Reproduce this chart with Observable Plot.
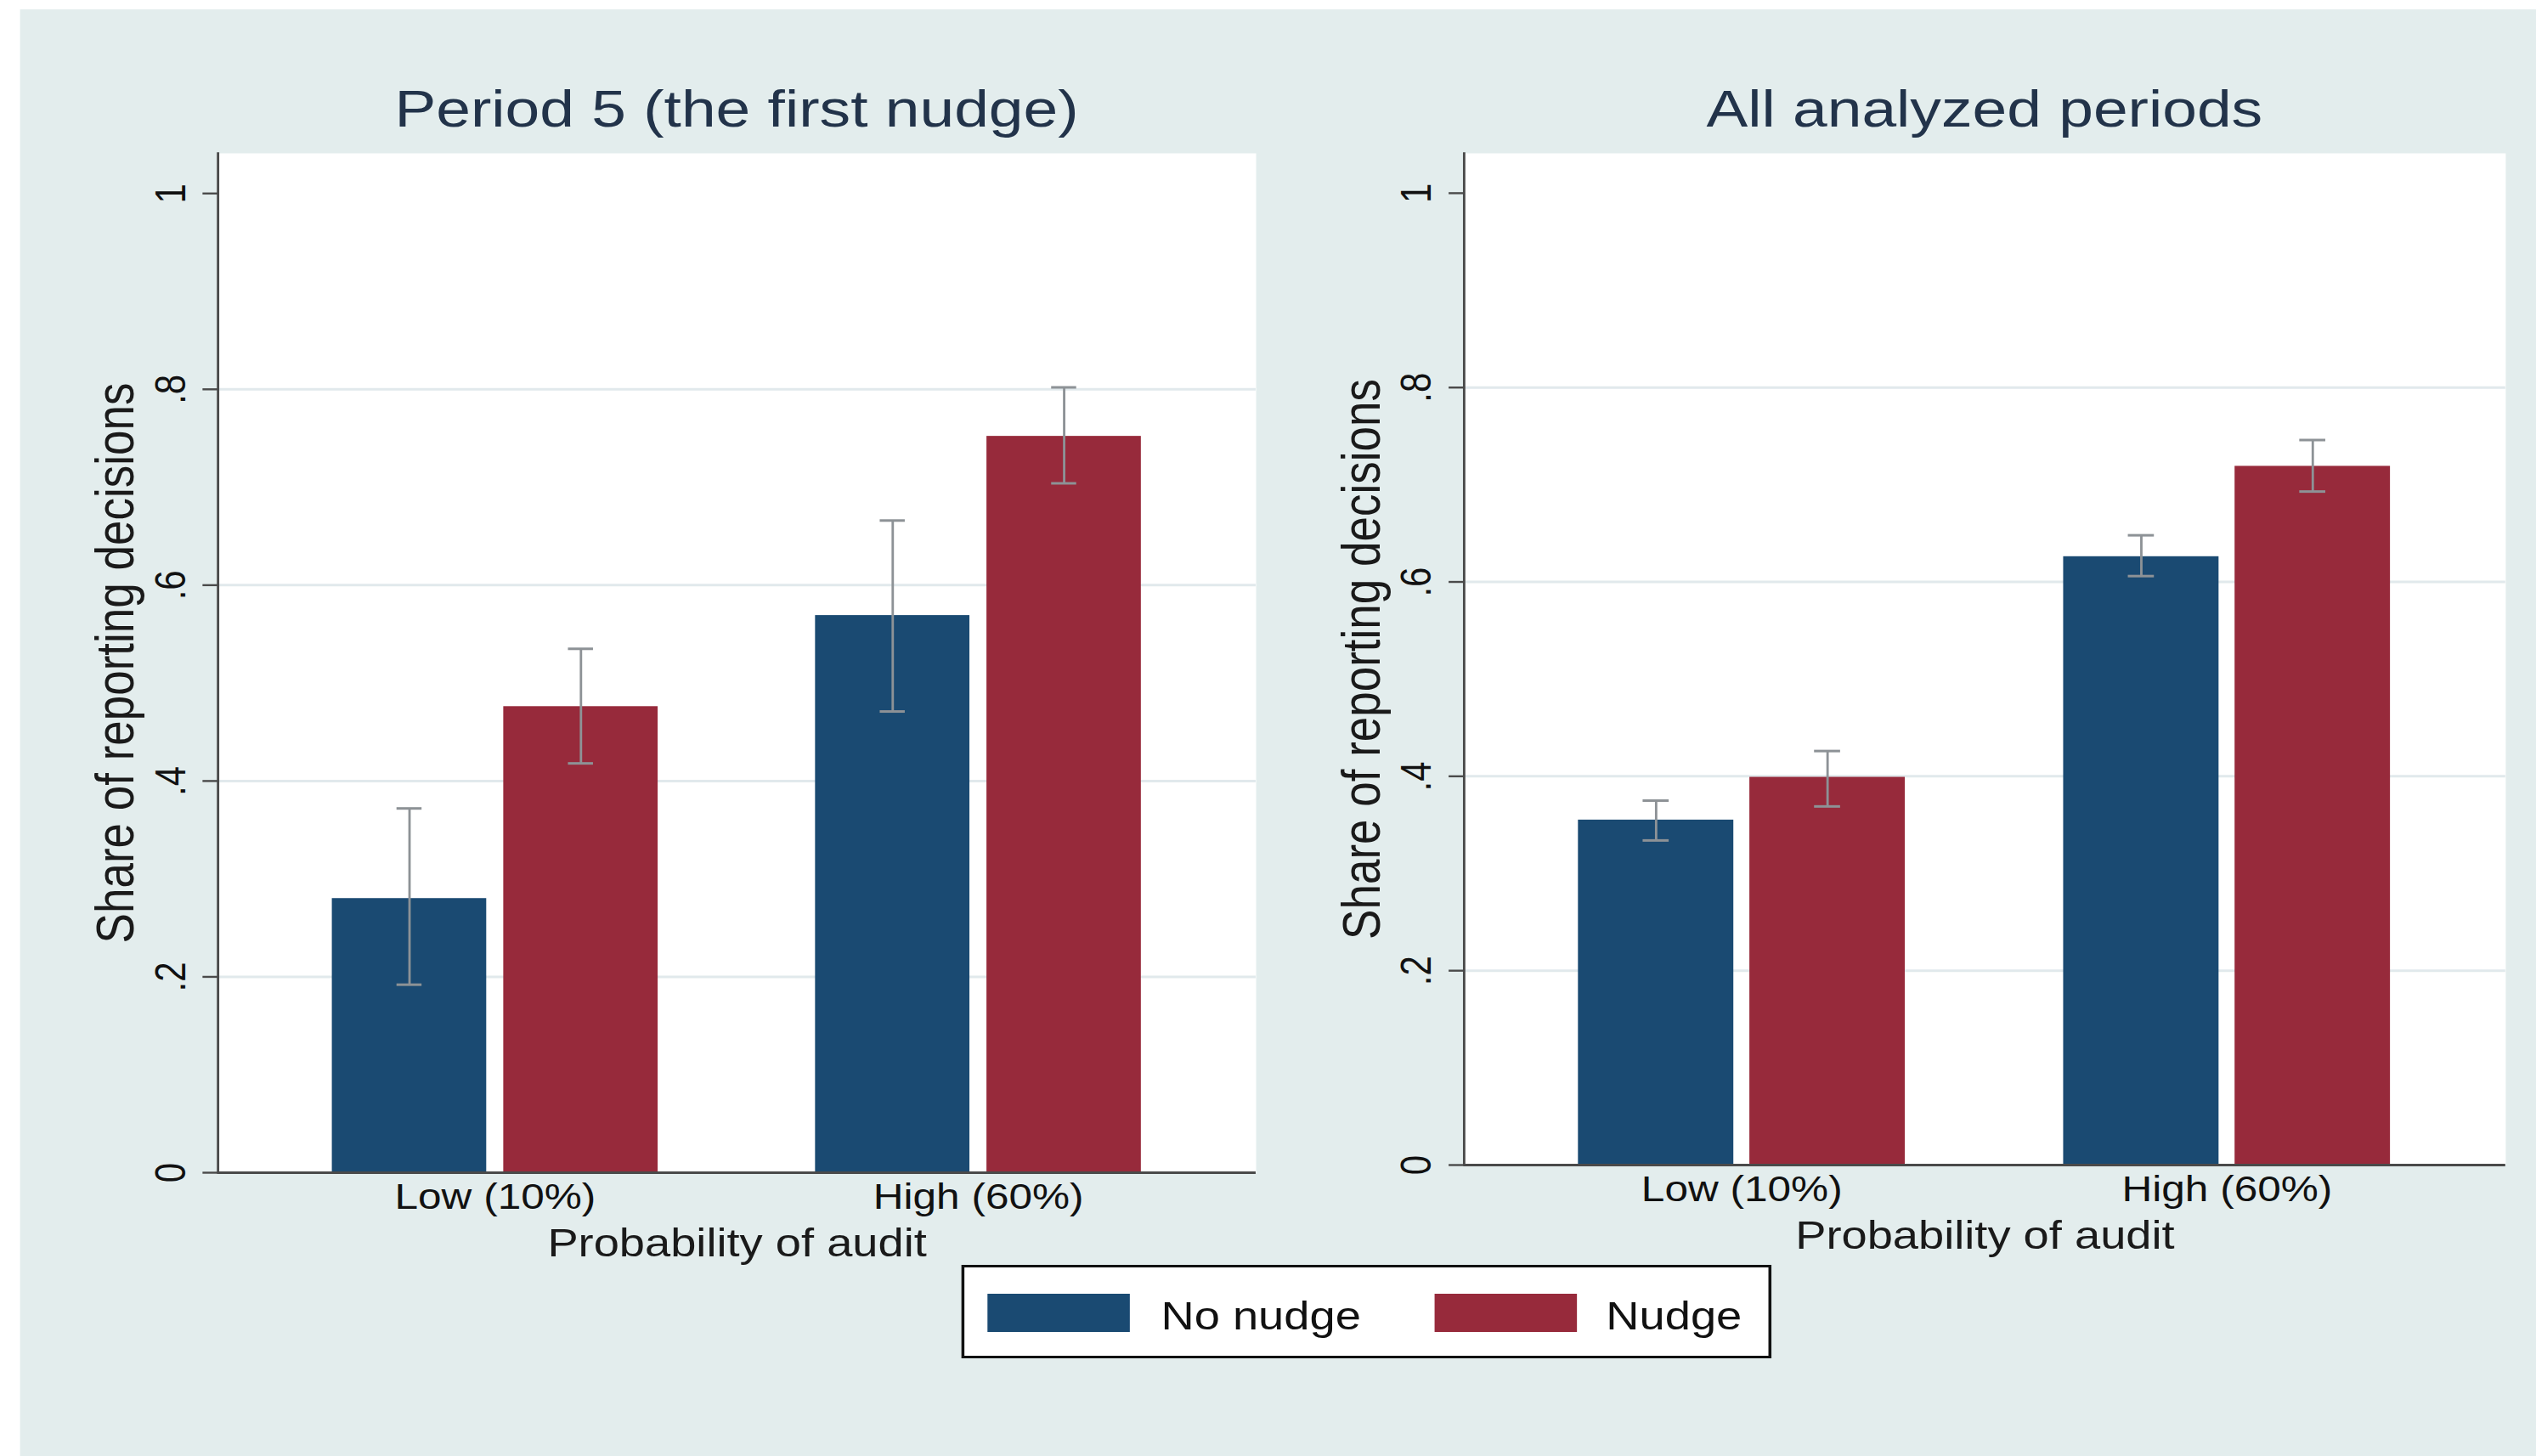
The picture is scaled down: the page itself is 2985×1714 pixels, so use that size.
<!DOCTYPE html>
<html>
<head>
<meta charset="utf-8">
<script src="https://cdn.jsdelivr.net/npm/d3@7"></script>
<script src="https://cdn.jsdelivr.net/npm/@observablehq/plot@0.6"></script>
<style>
  html, body { margin: 0; padding: 0; background: #ffffff; overflow: hidden; }
  #wrap { position: absolute; left: 0; top: 0; width: 2530px; height: 1714px;
          transform: scaleX(1.18); transform-origin: 0 0;
          font-family: "Liberation Sans", Arial, sans-serif; }
  #bg { position: absolute; left: 20px; top: 11px; right: 0; bottom: 0; background: #e3eded; }
  .panel { position: absolute; top: 0; }
  .title { position: absolute; top: 97px; text-align: center; font-size: 62px; line-height: 62px;
           color: #22334a; white-space: nowrap; }
  .legbox { position: absolute; box-sizing: border-box; background: #fff; border: 3px solid #111; }
  .sw { position: absolute; }
  .lt { position: absolute; font-size: 46px; line-height: 46px; color: #111; white-space: nowrap; }
</style>
</head>
<body>
<div id="wrap"><div id="bg"></div></div>
<script>
// ---------------- data ----------------
const groups = ["Low (10%)", "High (60%)"];
const series = ["No nudge", "Nudge"];
const seriesColors = ["#1a4a72", "#972a3b"];
const panelTitles = ["Period 5 (the first nudge)", "All analyzed periods"];
const xTitle = "Probability of audit";
const yTitle = "Share of reporting decisions";
const yTicks = [0, 0.2, 0.4, 0.6, 0.8, 1];
const yTickLabels = ["0", ".2", ".4", ".6", ".8", "1"];
const gridTicks = [0.2, 0.4, 0.6, 0.8];

// Period 5 (the first nudge): values by group [Low, High]
const p5NoNudge   = [0.280, 0.569];
const p5NoNudgeLo = [0.192, 0.471];
const p5NoNudgeHi = [0.372, 0.666];
const p5Nudge     = [0.476, 0.752];
const p5NudgeLo   = [0.418, 0.704];
const p5NudgeHi   = [0.535, 0.802];

// All analyzed periods
const allNoNudge   = [0.355, 0.626];
const allNoNudgeLo = [0.334, 0.606];
const allNoNudgeHi = [0.375, 0.648];
const allNudge     = [0.399, 0.719];
const allNudgeLo   = [0.369, 0.693];
const allNudgeHi   = [0.426, 0.746];

// ---------------- build ----------------
function rowsFor(means, los, his) {
  return groups.flatMap((g, i) => series.map((s, j) => ({
    group: g, series: s, value: means[j][i], lo: los[j][i], hi: his[j][i]
  })));
}
const panels = [
  { title: panelTitles[0], rows: rowsFor([p5NoNudge, p5Nudge], [p5NoNudgeLo, p5NudgeLo], [p5NoNudgeHi, p5NudgeHi]),
    left: 0, width: 1290, marginLeft: 217, marginRight: 37.5, marginBottom: 120 },
  { title: panelTitles[1], rows: rowsFor([allNoNudge, allNudge], [allNoNudgeLo, allNudgeLo], [allNoNudgeHi, allNudgeHi]),
    left: 1290, width: 1240, marginLeft: 170, marginRight: 31, marginBottom: 129 }
];

const wrap = document.getElementById("wrap");
const axisColor = "#4a4a4a";
const errColor = "#8d9296";
const off = 85.5;

for (const p of panels) {
  const r0 = p.rows.filter(d => d.series === series[0]);
  const r1 = p.rows.filter(d => d.series === series[1]);
  const errMarks = [];
  for (const [rows, dx] of [[r0, -off], [r1, off]]) {
    errMarks.push(
      Plot.ruleX(rows, {x: "group", y1: "lo", y2: "hi", dx, stroke: errColor, strokeWidth: 2.4}),
      Plot.tickY(rows, {x: "group", y: "lo", dx, insetLeft: 150, insetRight: 150, stroke: errColor, strokeWidth: 3}),
      Plot.tickY(rows, {x: "group", y: "hi", dx, insetLeft: 150, insetRight: 150, stroke: errColor, strokeWidth: 3})
    );
  }
  const chart = Plot.plot({
    width: p.width,
    height: 1500,
    marginLeft: p.marginLeft,
    marginRight: p.marginRight,
    marginTop: 180,
    marginBottom: p.marginBottom,
    style: {background: "transparent", fontFamily: "'Liberation Sans', Arial, sans-serif", overflow: "visible"},
    x: {domain: groups, paddingInner: 0.326, paddingOuter: 0.235, label: null},
    y: {domain: [0, 1.041], label: null},
    color: {domain: series, range: seriesColors},
    marks: [
      Plot.frame({fill: "white", stroke: "none"}),
      Plot.gridY(gridTicks, {stroke: "#e1e9ec", strokeOpacity: 1, strokeWidth: 3}),
      Plot.barY(r0, {x: "group", y: "value", fill: "series", insetRight: 171}),
      Plot.barY(r1, {x: "group", y: "value", fill: "series", insetLeft: 171}),
      ...errMarks,
      Plot.ruleY([0], {stroke: axisColor, strokeWidth: 3}),
      Plot.frame({anchor: "left", stroke: axisColor, strokeWidth: 2.4}),
      Plot.axisY(yTicks, {
        tickFormat: d => yTickLabels[yTicks.indexOf(d)],
        tickRotate: -90, tickSize: 15, tickPadding: 18, fontSize: 42,
        label: null, stroke: axisColor, fill: "#111", strokeWidth: 2.4
      }),
      Plot.axisX({tickSize: 0, tickPadding: 13, fontSize: 42, label: null, fill: "#111"}),
      Plot.text([yTitle], {text: d => d, frameAnchor: "left", rotate: -90, dx: -122,
        textAnchor: "middle", lineAnchor: "top", fontSize: 53, fill: "#1a1a1a"}),
      Plot.text([xTitle], {text: d => d, frameAnchor: "bottom", dy: 98,
        textAnchor: "middle", lineAnchor: "bottom", fontSize: 46, fill: "#1a1a1a"})
    ]
  });
  const holder = document.createElement("div");
  holder.className = "panel";
  holder.style.left = p.left + "px";
  holder.appendChild(chart);
  wrap.appendChild(holder);

  const t = document.createElement("div");
  t.className = "title";
  t.textContent = p.title;
  t.style.left = (p.left + p.marginLeft) + "px";
  t.style.width = (p.width - p.marginLeft - p.marginRight) + "px";
  wrap.appendChild(t);
}

// ---------------- legend ----------------
const box = document.createElement("div");
box.className = "legbox";
Object.assign(box.style, {left: "959px", top: "1489px", width: "808px", height: "110px"});
wrap.appendChild(box);
const legendItems = [
  {swLeft: 985, textLeft: 1158},
  {swLeft: 1431, textLeft: 1602}
];
series.forEach((s, i) => {
  const sw = document.createElement("div");
  sw.className = "sw";
  Object.assign(sw.style, {left: legendItems[i].swLeft + "px", top: "1523px", width: "142px", height: "45px",
    background: seriesColors[i]});
  wrap.appendChild(sw);
  const tx = document.createElement("div");
  tx.className = "lt";
  tx.textContent = s;
  Object.assign(tx.style, {left: legendItems[i].textLeft + "px", top: "1526px"});
  wrap.appendChild(tx);
});
</script>
</body>
</html>
